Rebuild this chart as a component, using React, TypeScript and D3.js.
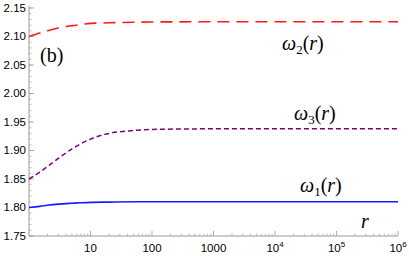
import React, { useEffect, useRef } from 'react';
import * as d3 from 'd3';

const rValues = [1, 1.5, 2, 3, 5, 7, 10, 20, 50, 100, 1000, 1e4, 1e5, 1e6];
const omega1 = [1.8, 1.802, 1.804, 1.806, 1.8075, 1.8083, 1.809, 1.8095, 1.81, 1.81, 1.81, 1.81, 1.81, 1.81];
const omega2 = [2.1, 2.106, 2.11, 2.115, 2.119, 2.121, 2.123, 2.124, 2.125, 2.1255, 2.1258, 2.1258, 2.1258, 2.1258];
const omega3 = [1.85, 1.862, 1.872, 1.886, 1.903, 1.912, 1.92, 1.93, 1.935, 1.937, 1.938, 1.938, 1.938, 1.938];
const yTicks = [1.75, 1.8, 1.85, 1.9, 1.95, 2.0, 2.05, 2.1, 2.15];
const xTicks = [10, 100, 1000, 1e4, 1e5, 1e6];

const App = () => {
    const ref = useRef<SVGSVGElement>(null);

    useEffect(() => {
        const width = 409, height = 256;
        const margin = { top: 6, left: 29, bottom: 20, right: 11 };
        const svg = d3.select(ref.current);
        svg.selectAll('*').remove();

        const x = d3.scaleLog().domain([1, 1e6]).range([margin.left, width - margin.right]);
        const y = d3.scaleLinear().domain([1.75, 2.1535]).range([height - margin.bottom, margin.top]);

        const axisColor = '#999';
        const font = "'Liberation Sans', Arial, sans-serif";

        // y axis
        const gy = svg.append('g');
        gy.append('line')
            .attr('x1', x(1)).attr('x2', x(1))
            .attr('y1', y(1.75)).attr('y2', margin.top)
            .attr('stroke', axisColor);
        const minorY = d3.range(1.75, 2.155, 0.01);
        gy.selectAll('line.minor').data(minorY).enter().append('line')
            .attr('x1', x(1)).attr('x2', x(1) + 2.5)
            .attr('y1', d => y(d)).attr('y2', d => y(d))
            .attr('stroke', axisColor).attr('stroke-width', 0.6);
        gy.selectAll('line.major').data(yTicks).enter().append('line')
            .attr('x1', x(1)).attr('x2', x(1) + 5)
            .attr('y1', d => y(d)).attr('y2', d => y(d))
            .attr('stroke', axisColor).attr('stroke-width', 0.8);
        gy.selectAll('text').data(yTicks).enter().append('text')
            .attr('x', x(1) - 3).attr('y', d => y(d) + 4)
            .attr('text-anchor', 'end')
            .attr('font-family', font).attr('font-size', 11.5)
            .text(d => d.toFixed(2));

        // x axis
        const gx = svg.append('g');
        const y0 = y(1.75);
        gx.append('line')
            .attr('x1', x(1)).attr('x2', x(1e6))
            .attr('y1', y0).attr('y2', y0)
            .attr('stroke', axisColor);
        const minorX: number[] = [];
        for (let p = 0; p < 6; p++) for (let m = 2; m <= 9; m++) minorX.push(m * Math.pow(10, p));
        gx.selectAll('line.minor').data(minorX).enter().append('line')
            .attr('x1', d => x(d)).attr('x2', d => x(d))
            .attr('y1', y0).attr('y2', y0 - 2.5)
            .attr('stroke', axisColor).attr('stroke-width', 0.6);
        gx.selectAll('line.major').data(xTicks).enter().append('line')
            .attr('x1', d => x(d)).attr('x2', d => x(d))
            .attr('y1', y0).attr('y2', y0 - 5)
            .attr('stroke', axisColor).attr('stroke-width', 0.8);
        const xl = gx.selectAll('text').data(xTicks).enter().append('text')
            .attr('x', d => x(d)).attr('y', y0 + 16)
            .attr('text-anchor', 'middle')
            .attr('font-family', font).attr('font-size', 11.5);
        xl.each(function (d) {
            const t = d3.select(this);
            const p = Math.round(Math.log10(d));
            if (p <= 3) {
                t.text(String(d));
            } else {
                t.append('tspan').text('10');
                t.append('tspan').attr('dy', -5).attr('font-size', 8).text(String(p));
            }
        });

        // curves
        const series = [
            { vals: omega2, color: '#ff1a1a', dash: '12,7', w: 1.6 },
            { vals: omega3, color: '#800080', dash: '5,3', w: 1.5 },
            { vals: omega1, color: '#1a1aff', dash: null, w: 1.6 },
        ];
        const line = d3.line<number>()
            .x((d, i) => x(rValues[i]))
            .y(d => y(d))
            .curve(d3.curveMonotoneX);
        series.forEach(s => {
            svg.append('path')
                .attr('d', line(s.vals))
                .attr('fill', 'none')
                .attr('stroke', s.color)
                .attr('stroke-width', s.w)
                .attr('stroke-dasharray', s.dash);
        });

        // labels
        const serif = "'Liberation Serif', 'DejaVu Serif', serif";
        svg.append('text').attr('x', 40).attr('y', 62)
            .style('font-family', serif).attr('font-size', 20).text('(b)');
        const omegaLabel = (xp: number, yp: number, sub: string) => {
            const t = svg.append('text').attr('x', xp).attr('y', yp)
                .style('font-family', serif).attr('font-size', 20).attr('font-style', 'italic');
            t.append('tspan').text('ω');
            t.append('tspan').attr('dy', 4).attr('font-size', 13).attr('font-style', 'normal').text(sub);
            t.append('tspan').attr('dy', -4).attr('font-style', 'normal').text('(');
            t.append('tspan').text('r');
            t.append('tspan').attr('font-style', 'normal').text(')');
        };
        omegaLabel(282, 50, '2');
        omegaLabel(294, 120, '3');
        omegaLabel(300, 192, '1');
        svg.append('text').attr('x', 361).attr('y', 228)
            .style('font-family', serif).attr('font-size', 20).attr('font-style', 'italic').text('r');
    }, []);

    return (
        <svg ref={ref} width={409} height={256}
            style={{ position: 'absolute', left: 0, top: 0, background: '#fff' }} />
    );
};

export default App;
